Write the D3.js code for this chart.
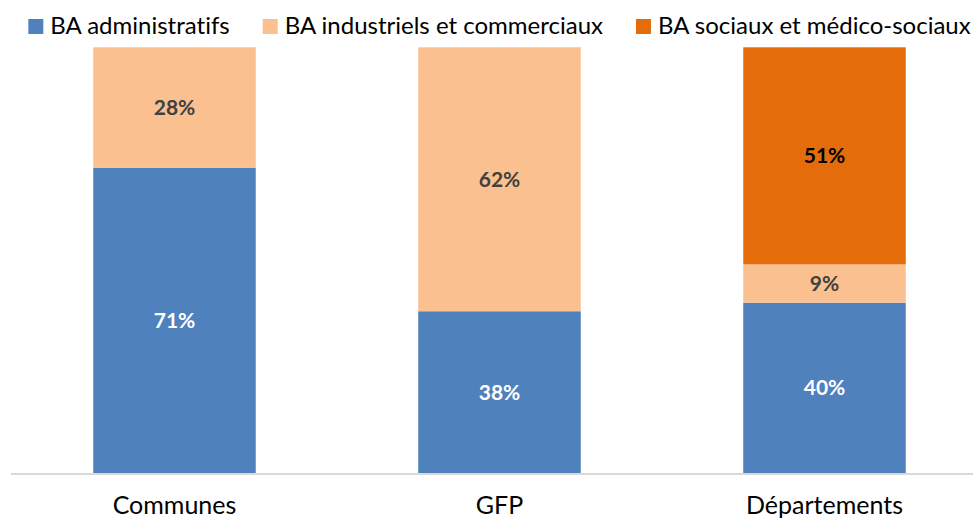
<!DOCTYPE html>
<html>
<head>
<meta charset="utf-8">
<script src="https://cdnjs.cloudflare.com/ajax/libs/d3/7.8.5/d3.min.js"></script>
<style>
  body { margin: 0; background: #fff; }
  svg { display: block; font-family: Lato, "Open Sans", sans-serif; font-variant-ligatures: none; }
</style>
</head>
<body>
<svg id="chart" width="973" height="520"></svg>
<script>
// Data
const categories = ["Communes", "GFP", "Départements"];
const seriesNames = ["BA administratifs", "BA industriels et commerciaux", "BA sociaux et médico-sociaux"];
const administratifs = [71, 38, 40];
const industriels = [28, 62, 9];
const sociaux = [0, 0, 51];

const colors = ["#4F81BD", "#FAC090", "#E46C0A"];
const labelColors = ["#ffffff", "#404040", "#000000"];

const width = 973;
const height = 520;
const svg = d3.select("#chart");

// Build rows for the stack
const keys = ["administratifs", "industriels", "sociaux"];
const rows = categories.map((c, i) => ({
  category: c,
  administratifs: administratifs[i],
  industriels: industriels[i],
  sociaux: sociaux[i],
}));

const stack = d3.stack().keys(keys).offset(d3.stackOffsetExpand);
const series = stack(rows);

// Scales
const x = d3
  .scaleBand()
  .domain(categories)
  .range([12, 987])
  .paddingInner(0.5)
  .paddingOuter(0.25);

const y = d3.scaleLinear().domain([0, 1]).range([473, 47.3]);

// Bars
const layers = svg
  .selectAll("g.layer")
  .data(series)
  .enter()
  .append("g")
  .attr("class", "layer")
  .attr("fill", (d, i) => colors[i]);

layers
  .selectAll("rect")
  .data((d) => d)
  .enter()
  .append("rect")
  .attr("x", (d) => x(d.data.category))
  .attr("width", x.bandwidth())
  .attr("y", (d) => y(d[1]))
  .attr("height", (d) => y(d[0]) - y(d[1]));

// Data labels centred in each segment
series.forEach((s, si) => {
  svg
    .append("g")
    .selectAll("text")
    .data(s.filter((d) => d.data[s.key] > 0))
    .enter()
    .append("text")
    .attr("x", (d) => x(d.data.category) + x.bandwidth() / 2)
    .attr("y", (d) => (y(d[0]) + y(d[1])) / 2)
    .attr("dy", "0.36em")
    .attr("text-anchor", "middle")
    .attr("font-size", 21)
    .attr("font-weight", "bold")
    .attr("fill", labelColors[si])
    .text((d) => d.data[s.key] + "%");
});

// Category axis line
svg
  .append("line")
  .attr("x1", 11)
  .attr("x2", width)
  .attr("y1", 474)
  .attr("y2", 474)
  .attr("stroke", "#d9d9d9")
  .attr("stroke-width", 2);

// Category labels
svg
  .append("g")
  .selectAll("text")
  .data(categories)
  .enter()
  .append("text")
  .attr("x", (d) => x(d) + x.bandwidth() / 2)
  .attr("y", 514)
  .attr("text-anchor", "middle")
  .attr("font-size", 25)
  .attr("fill", "#000")
  .text((d) => d);

// Legend, centred over the plot
const legend = svg.append("g");
const items = legend
  .selectAll("g")
  .data(seriesNames)
  .enter()
  .append("g");

items
  .append("rect")
  .attr("width", 15)
  .attr("height", 15)
  .attr("y", 19)
  .attr("fill", (d, i) => colors[i]);

items
  .append("text")
  .attr("x", 22)
  .attr("y", 34)
  .attr("font-size", 24)
  .attr("fill", "#000")
  .text((d) => d);

let offset = 0;
const itemGap = 33;
items.each(function () {
  const w = 22 + d3.select(this).select("text").node().getComputedTextLength();
  d3.select(this).attr("transform", `translate(${offset},0)`);
  offset += w + itemGap;
});
const totalW = offset - itemGap;
const centre = (x.range()[0] + x.range()[1]) / 2;
legend.attr("transform", `translate(${centre - totalW / 2},0)`);
</script>
</body>
</html>
